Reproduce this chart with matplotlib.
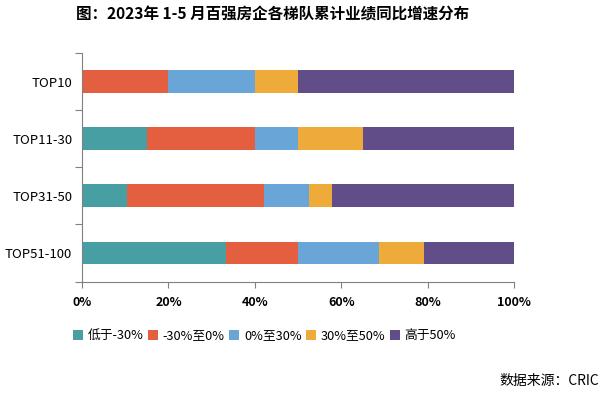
import matplotlib.pyplot as plt
import numpy as np

plt.rcParams['font.family'] = ['Noto Sans CJK SC', 'DejaVu Sans']

# company tiers and share of companies (%) in each growth bucket
tiers = ["TOP10", "TOP11-30", "TOP31-50", "TOP51-100"]
series = ["低于-30%", "-30%至0%", "0%至30%", "30%至50%", "高于50%"]
below_m30 = [0.0, 15.0, 10.5, 33.3]
m30_to_0 = [20.0, 25.0, 31.6, 16.7]
p0_to_30 = [20.0, 10.0, 10.5, 18.75]
p30_to_50 = [10.0, 15.0, 5.3, 10.4]
above_50 = [50.0, 35.0, 42.1, 20.85]
colors = ["#479EA3", "#E35F40", "#69A5D6", "#EEAB3A", "#614D87"]

values = [below_m30, m30_to_0, p0_to_30, p30_to_50, above_50]

fig = plt.figure(figsize=(6.06, 3.95), dpi=100)
ax = fig.add_axes([0.1353, 0.287, 0.713, 0.579])

y = np.arange(len(tiers))
left = np.zeros(len(tiers))
for name, vals, c in zip(series, values, colors):
    ax.barh(y, vals, left=left, height=0.4, color=c, label=name)
    left += np.array(vals)

ax.set_ylim(len(tiers) - 0.5, -0.5)
ax.set_xlim(0, 100)
ax.set_yticks(np.arange(-0.5, len(tiers)), minor=False)
ax.set_yticklabels([])
ax.set_yticks(y, minor=True)
ax.set_yticklabels(tiers, minor=True, fontsize=9.5)
ax.tick_params(axis='y', which='minor', length=0, pad=7)
ax.tick_params(axis='y', which='major', length=5, color='#808080')
ax.set_xticks(np.arange(0, 101, 20))
ax.set_xticklabels([f"{v}%" for v in range(0, 101, 20)], fontsize=9, fontweight='bold')
ax.tick_params(axis='x', length=4, color='#808080', pad=6)

for s in ['top', 'right']:
    ax.spines[s].set_visible(False)
for s in ['left', 'bottom']:
    ax.spines[s].set_color('#808080')

fig.text(0.449, 0.962, "图：2023年 1-5 月百强房企各梯队累计业绩同比增速分布",
         ha='center', va='center', fontsize=11.2, fontweight='bold')

fig.legend(loc='center left', bbox_to_anchor=(0.112, 0.150), ncol=5, frameon=False,
           fontsize=9.2, handlelength=0.8, handleheight=0.8, handletextpad=0.35,
           columnspacing=0.35, borderaxespad=0)

fig.text(0.988, 0.036, "数据来源：CRIC", ha='right', va='center', fontsize=10)

plt.savefig("out.png", dpi=100)
